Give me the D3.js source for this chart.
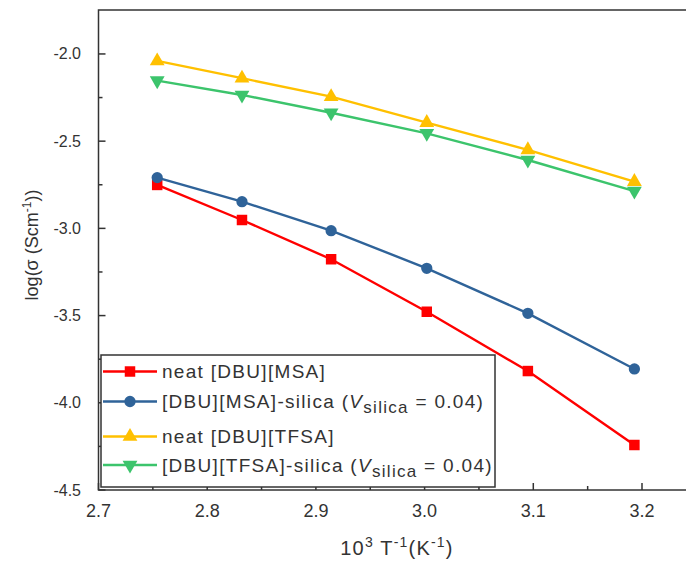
<!DOCTYPE html>
<html lang="en">
  <head>
    <meta charset="utf-8" />
    <title>Conductivity vs 1/T</title>
    <script type="text/javascript" src="https://cdn.jsdelivr.net/npm/d3@7"></script>
    <style type="text/css">
body { margin: 0; background: white; }
svg text { font-family: "Liberation Sans", Arial, sans-serif; fill: #333; }
    </style>
  </head>
  <body>
    <script type="text/javascript">
// inverse temperature, 10^3 T^-1 (K^-1)
var invT = [2.754, 2.832, 2.914, 3.002, 3.095, 3.193];

var neatMSA   = [-2.751, -2.952, -3.177, -3.478, -3.818, -4.242];
var silicaMSA = [-2.709, -2.847, -3.013, -3.229, -3.487, -3.806];
var neatTFSA  = [-2.040, -2.139, -2.245, -2.394, -2.550, -2.732];
var silicaTFSA = [-2.153, -2.235, -2.337, -2.455, -2.608, -2.786];

var xTicks = [2.7, 2.8, 2.9, 3.0, 3.1, 3.2];
var yTicks = [-2.0, -2.5, -3.0, -3.5, -4.0, -4.5];

var series = [
  { name: "neat [DBU][MSA]", vals: neatMSA, color: "#ff0000", sym: "square", silica: false },
  { name: "[DBU][MSA]-silica (", vals: silicaMSA, color: "#2f6399", sym: "circle", silica: true },
  { name: "neat [DBU][TFSA]", vals: neatTFSA, color: "#ffc000", sym: "up", silica: false },
  { name: "[DBU][TFSA]-silica (", vals: silicaTFSA, color: "#3cc46c", sym: "down", silica: true }
];

var w = 686, h = 561;
var pad = { left: 98.5, top: 10, bottom: 490 };

var svg = d3.select("body").append("svg")
            .attr("width", w)
            .attr("height", h);

var x = d3.scaleLinear().domain([2.7, 3.25]).range([pad.left, pad.left + 0.55 * 1087]);
var y = d3.scaleLinear().domain([-4.5, -1.748]).range([pad.bottom, pad.top]);

// frame
svg.append("rect")
   .attr("x", x(2.7)).attr("y", pad.top)
   .attr("width", x(3.25) - x(2.7)).attr("height", pad.bottom - pad.top)
   .attr("fill", "none").attr("stroke", "#333").attr("stroke-width", 1.5);

// ticks pointing inward
var xAxis = svg.append("g");
d3.range(2.7, 3.26, 0.05).forEach(function(v, i) {
  var len = (i % 2 === 0) ? 7 : 4;
  xAxis.append("line")
       .attr("x1", x(v)).attr("x2", x(v))
       .attr("y1", pad.bottom).attr("y2", pad.bottom - len)
       .attr("stroke", "#333").attr("stroke-width", 1.5);
});
xAxis.selectAll("text").data(xTicks).enter().append("text")
     .attr("x", function(d) { return x(d); })
     .attr("y", 517)
     .attr("text-anchor", "middle")
     .attr("font-size", "18px")
     .text(function(d) { return d.toFixed(1); });

var yAxis = svg.append("g");
d3.range(0, 11).forEach(function(i) {
  var v = -4.5 + i * 0.25;
  var len = (i % 2 === 0) ? 7 : 4;
  yAxis.append("line")
       .attr("x1", pad.left).attr("x2", pad.left + len)
       .attr("y1", y(v)).attr("y2", y(v))
       .attr("stroke", "#333").attr("stroke-width", 1.5);
});
yAxis.selectAll("text").data(yTicks).enter().append("text")
     .attr("x", 81)
     .attr("y", function(d) { return y(d) + 5.5; })
     .attr("text-anchor", "end")
     .attr("font-size", "16px")
     .text(function(d) { return d.toFixed(1); });

// axis titles
var xt = svg.append("text")
   .attr("x", 397).attr("y", 555)
   .attr("text-anchor", "middle")
   .attr("font-size", "20px")
   .attr("letter-spacing", "1.2px");
xt.append("tspan").text("10");
xt.append("tspan").attr("dy", -8).attr("font-size", "14px").text("3");
xt.append("tspan").attr("dy", 8).text(" T");
xt.append("tspan").attr("dy", -8).attr("font-size", "14px").text("-1");
xt.append("tspan").attr("dy", 8).text("(K");
xt.append("tspan").attr("dy", -8).attr("font-size", "14px").text("-1");
xt.append("tspan").attr("dy", 8).text(")");

var yt = svg.append("text")
   .attr("transform", "translate(38,245) rotate(-90)")
   .attr("text-anchor", "middle")
   .attr("font-size", "18px");
yt.append("tspan").text("log(\u03c3 (Scm");
yt.append("tspan").attr("dy", -7).attr("font-size", "12px").text("-1");
yt.append("tspan").attr("dy", 7).text("))");

function symbolFor(s) {
  if (s === "square") return d3.symbol().type(d3.symbolSquare).size(110)();
  if (s === "circle") return d3.symbol().type(d3.symbolCircle).size(100)();
  return d3.symbol().type(d3.symbolTriangle).size(95)();
}

var line = d3.line()
             .x(function(d, i) { return x(invT[i]); })
             .y(function(d) { return y(d); });

var plot = svg.append("g");
series.forEach(function(s) {
  plot.append("path")
      .attr("d", line(s.vals))
      .attr("fill", "none")
      .attr("stroke", s.color)
      .attr("stroke-width", 2.4);
  plot.selectAll(null).data(s.vals).enter().append("path")
      .attr("d", symbolFor(s.sym))
      .attr("transform", function(d, i) {
        return "translate(" + x(invT[i]) + "," + y(d) + ")" + (s.sym === "down" ? " rotate(180)" : "");
      })
      .attr("fill", s.color);
});

// legend
var lg = svg.append("g");
lg.append("rect")
  .attr("x", 101).attr("y", 355)
  .attr("width", 394).attr("height", 132)
  .attr("fill", "white").attr("stroke", "#333").attr("stroke-width", 1.5);
var rows = [371.5, 401.5, 436.5, 465];
series.forEach(function(s, i) {
  var ry = rows[i];
  lg.append("line")
    .attr("x1", 103).attr("x2", 157)
    .attr("y1", ry).attr("y2", ry)
    .attr("stroke", s.color).attr("stroke-width", 2.4);
  lg.append("path")
    .attr("d", symbolFor(s.sym))
    .attr("transform", "translate(130," + ry + ")" + (s.sym === "down" ? " rotate(180)" : ""))
    .attr("fill", s.color);
  var t = lg.append("text")
    .attr("x", 162).attr("y", ry + 6.5)
    .attr("font-size", "19px")
    .attr("letter-spacing", "1.3px");
  t.append("tspan").text(s.name);
  if (s.silica) {
    t.append("tspan").attr("font-style", "italic").text("V");
    t.append("tspan").attr("dy", 5).attr("font-size", "17px").text("silica");
    t.append("tspan").attr("dy", -5).text(" = 0.04)");
  }
});
    </script>
  </body>
</html>
